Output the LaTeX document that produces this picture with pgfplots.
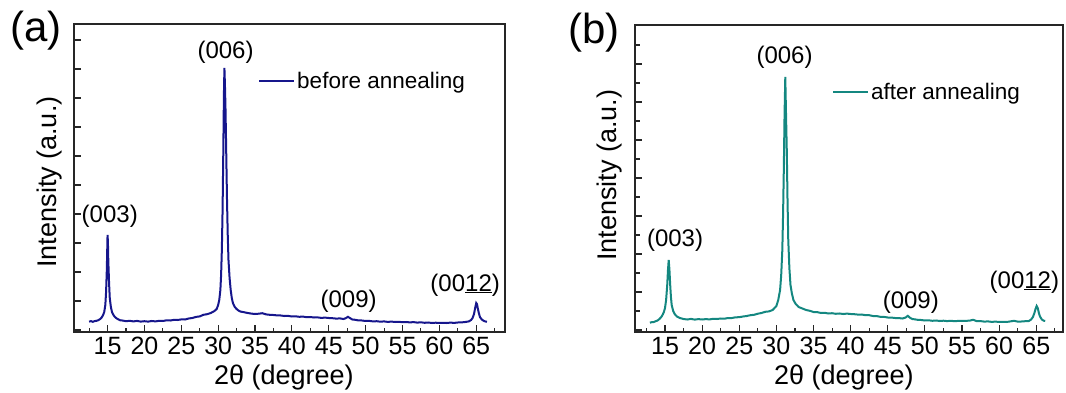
\documentclass[border=0pt]{standalone}
\usepackage{fontspec}
\setmainfont{Liberation Sans}
\usepackage{pgfplots}
\pgfplotsset{compat=1.18}
\definecolor{navyc}{RGB}{22,22,140}
\definecolor{tealc}{RGB}{20,135,128}
\pgfplotsset{xrd/.style={
  scale only axis,
  axis line style={line width=1.3pt, black!85},
  every tick/.style={black!85, line width=1.1pt},
  tick align=inside,
  xtick pos=bottom, ytick pos=left,
  yticklabels={},
  major tick length=7pt, minor tick length=4.5pt,
  tick label style={font=\fontsize{25}{25}\selectfont},
  xticklabel style={yshift=-2pt},
  /pgf/number format/assume math mode=true,
  label style={font=\fontsize{27}{27}\selectfont},
  xtick={15,20,...,65},
  minor xtick={12.5,17.5,...,67.5},
  xlabel={2θ (degree)},
  ylabel={Intensity (a.u.)},
  legend style={draw=none, fill=none, anchor=west, font=\fontsize{22.5}{22.5}\selectfont, inner sep=0pt},
  legend image code/.code={\draw[#1, line width=2pt] (0pt,0pt) -- (35pt,0pt);},
  clip=false,
}}
\begin{document}
\begin{tikzpicture}
\path[use as bounding box] (0pt,0pt) rectangle (1066pt,-393pt);
\node[font=\fontsize{42}{42}\selectfont] at (36pt,-31pt) {(a)};
\node[font=\fontsize{42}{42}\selectfont] at (594pt,-33pt) {(b)};
\begin{axis}[xrd,
  at={(74pt,-332pt)}, anchor=south west, width=431pt, height=308pt,
  xmin=10.45, xmax=68.9, ymin=-2, ymax=306,
  ytick={0,29,58,87,116,145,174,203,232,261,290},
  xlabel style={at={(axis description cs:0.487,-0.148)}, anchor=center},
  ylabel style={at={(axis description cs:-0.0557,0.487)}, anchor=center},
  legend style={at={(axis description cs:0.427,0.816)}},
]
\addplot[navyc, line width=2pt] coordinates {
(12.5,8.3)(12.75,8.9)(13.0,8.2)(13.25,8.9)(13.5,9.2)(13.75,9.8)(14.0,11)(14.2,12.5)(14.4,15)(14.55,18)(14.7,25)(14.8,38)(14.9,60)(14.97,85)(15.0,95)(15.05,88)(15.1,70)(15.2,48)(15.3,32)(15.45,23)(15.6,18)(15.8,15)(16.0,13)(16.25,11.5)(16.5,10.5)(16.75,9.6)(17.0,9.5)(17.5,8.8)(18.0,9.2)(18.5,8.6)(19.0,9.1)(19.5,8.4)(20.0,8.8)(20.5,8.4)(21.0,9.0)(21.5,8.6)(22.0,9.2)(22.5,9.0)(23.0,9.7)(23.5,9.5)(24.0,10.1)(24.5,10.0)(25.0,10.6)(25.5,10.5)(26.0,11.5)(26.5,12.0)(27.0,13.1)(27.5,13.6)(28.0,15.2)(28.5,15.8)(29.0,17.0)(29.5,19.0)(29.8,21)(30.0,25)(30.15,30)(30.3,40)(30.4,55)(30.5,80)(30.6,120)(30.7,180)(30.78,235)(30.85,262)(30.92,245)(31.0,220)(31.1,175)(31.2,130)(31.3,95)(31.4,70)(31.55,52)(31.7,40)(31.85,32)(32.0,27)(32.25,23)(32.5,21)(32.75,19.5)(33.0,18.5)(33.5,17.8)(34.0,17.0)(34.5,16.4)(35.0,16.0)(35.5,16.3)(36.0,16.8)(36.5,15.6)(37.0,15.2)(37.5,15.0)(38.0,14.6)(38.5,14.5)(39.0,14.0)(39.5,14.1)(40.0,13.5)(40.5,13.7)(41.0,13.2)(41.5,13.4)(42.0,12.8)(42.5,13.0)(43.0,12.5)(43.5,12.6)(44.0,12.1)(44.5,12.4)(45.0,12.0)(45.5,11.8)(46.0,11.4)(46.5,11.6)(47.0,11.0)(47.3,11.8)(47.6,13.2)(47.9,11.8)(48.2,10.5)(48.6,10.2)(49.0,9.6)(49.5,9.5)(50.0,9.0)(50.5,9.1)(51.0,8.6)(51.5,8.8)(52.0,8.3)(52.5,8.6)(53.0,8.1)(53.5,8.4)(54.0,8.0)(54.5,8.2)(55.0,7.8)(55.5,8.0)(56.0,7.6)(56.5,7.9)(57.0,7.4)(57.5,7.7)(58.0,7.2)(58.5,7.5)(59.0,7.0)(59.5,7.3)(60.0,7.0)(60.5,7.2)(61.0,7.0)(61.5,7.4)(62.0,7.1)(62.5,7.5)(63.0,7.6)(63.5,8.0)(64.0,8.6)(64.3,10)(64.5,12)(64.7,16)(64.85,22)(65.0,27)(65.1,26)(65.2,22)(65.35,17)(65.5,13)(65.75,10.5)(66.0,9.2)(66.2,8.6)(66.45,8.2)
};
\addlegendentry{before annealing}
\node[font=\fontsize{24}{24}\selectfont] at (axis cs:15.3,114) {(003)};
\node[font=\fontsize{24}{24}\selectfont] at (axis cs:31.0,278) {(006)};
\node[font=\fontsize{24}{24}\selectfont] at (axis cs:47.7,29) {(009)};
\node[font=\fontsize{24}{24}\selectfont] at (axis cs:63.5,45) {(00\underline{12})};
\end{axis}
\begin{axis}[xrd,
  at={(635pt,-332pt)}, anchor=south west, width=428pt, height=307pt,
  xmin=10.96, xmax=68.6, ymin=-2, ymax=305,
  ytick={0,38,76,114,152,190,228,266},
  minor ytick={19,57,95,133,171,209,247,285},
  xlabel style={at={(axis description cs:0.488,-0.148)}, anchor=center},
  ylabel style={at={(axis description cs:-0.0584,0.51)}, anchor=center},
  legend style={at={(axis description cs:0.46,0.783)}},
]
\addplot[tealc, line width=2pt] coordinates {
(12.97,7.3)(13.25,7.9)(13.5,8.0)(13.75,8.8)(14.0,9.5)(14.25,11)(14.5,13)(14.7,15.5)(14.85,18)(15.0,22)(15.15,30)(15.3,45)(15.4,60)(15.5,70)(15.6,60)(15.7,45)(15.8,33)(15.9,25)(16.1,19)(16.3,16)(16.6,13.5)(17.0,12)(17.5,11)(18.0,10.5)(18.5,11.1)(19.0,10.4)(19.5,10.9)(20.0,10.5)(20.5,10.9)(21.0,10.6)(21.5,11.2)(22.0,11.0)(22.5,11.5)(23.0,11.3)(23.5,12.0)(24.0,12.0)(24.5,12.7)(25.0,12.8)(25.5,13.5)(26.0,14.0)(26.5,14.8)(27.0,15.2)(27.5,16.3)(28.0,17.0)(28.5,18.2)(29.0,18.6)(29.5,20.0)(30.0,24)(30.25,30)(30.5,40)(30.65,55)(30.8,80)(30.9,115)(31.0,160)(31.1,215)(31.2,253)(31.3,215)(31.4,180)(31.5,130)(31.6,90)(31.75,62)(31.9,45)(32.1,36)(32.3,30)(32.6,26)(33.0,23)(33.5,21.5)(34.0,20.0)(34.5,19.2)(35.0,18.0)(35.5,17.9)(36.0,17.0)(36.5,17.2)(37.0,16.5)(37.5,16.8)(38.0,16.2)(38.5,16.5)(39.0,16.0)(39.5,16.4)(40.0,16.0)(40.5,15.8)(41.0,15.4)(41.5,15.5)(42.0,14.8)(42.5,14.8)(43.0,14.0)(43.5,13.9)(44.0,13.2)(44.5,13.1)(45.0,12.5)(45.5,12.4)(46.0,12.0)(46.5,11.9)(47.0,11.5)(47.4,12.5)(47.7,14.2)(48.0,12.2)(48.3,11.0)(48.7,10.6)(49.0,10.2)(49.5,10.0)(50.0,9.5)(50.5,9.7)(51.0,9.2)(51.5,9.5)(52.0,9.0)(52.5,9.3)(53.0,8.9)(53.5,9.2)(54.0,8.8)(54.5,9.1)(55.0,9.0)(55.5,9.2)(56.0,9.3)(56.5,10.2)(57.0,8.8)(57.5,8.9)(58.0,8.4)(58.5,8.6)(59.0,8.1)(59.5,8.4)(60.0,8.0)(60.5,8.2)(61.0,8.0)(61.5,8.6)(62.0,9.2)(62.5,8.4)(63.0,8.5)(63.5,8.8)(64.0,9.0)(64.3,10.5)(64.55,13)(64.75,17)(64.9,21)(65.05,24)(65.2,22)(65.35,17)(65.5,13.5)(65.75,10.5)(66.0,9.3)(66.2,9.0)
};
\addlegendentry{after annealing}
\node[font=\fontsize{24}{24}\selectfont] at (axis cs:16.35,90) {(003)};
\node[font=\fontsize{24}{24}\selectfont] at (axis cs:31.1,273) {(006)};
\node[font=\fontsize{24}{24}\selectfont] at (axis cs:48.1,28) {(009)};
\node[font=\fontsize{24}{24}\selectfont] at (axis cs:63.4,48) {(00\underline{12})};
\end{axis}
\end{tikzpicture}
\end{document}
